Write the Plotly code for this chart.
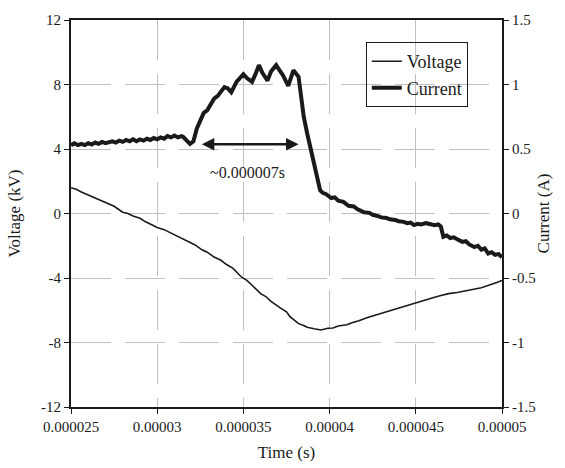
import plotly.graph_objects as go

# ---- data (time in microseconds) ----
volt_t_us = [25.0, 25.3, 25.6, 26.0, 26.3, 26.6, 26.9, 27.2, 27.5, 28.0, 28.3, 28.6, 29.0, 29.3,
             29.7, 30.0, 30.4, 30.8, 31.2, 31.5, 31.9, 32.2, 32.6, 32.9, 33.3, 33.7, 34.0, 34.4,
             34.9, 35.2, 35.5, 36.0, 36.3, 36.6, 37.2, 37.5, 37.7, 38.2, 38.5, 38.7, 39.1, 39.5,
             39.9, 40.2, 40.5, 41.0, 41.3, 41.7, 42.2, 42.6, 43.0, 43.5, 44.0, 44.4, 44.9, 45.4,
             45.9, 46.4, 46.9, 47.4, 47.9, 48.4, 48.8, 49.1, 49.4, 49.7, 50.0]
voltage_kv = [1.6, 1.5, 1.33, 1.15, 1.0, 0.9, 0.74, 0.62, 0.45, 0.08, 0.0, -0.15, -0.3, -0.5,
              -0.7, -0.87, -1.0, -1.2, -1.4, -1.55, -1.8, -1.95, -2.25, -2.4, -2.7, -2.9, -3.15, -3.4,
              -3.95, -4.15, -4.45, -4.97, -5.15, -5.45, -5.9, -6.1, -6.4, -6.83, -6.95, -7.05, -7.15, -7.22,
              -7.12, -7.1, -6.98, -6.9, -6.77, -6.65, -6.45, -6.32, -6.15, -6.0, -5.85, -5.7, -5.53, -5.4,
              -5.25, -5.1, -4.97, -4.9, -4.8, -4.68, -4.6, -4.5, -4.4, -4.28, -4.15]

curr_t_us = [25.0, 25.2, 25.4, 25.6, 25.8, 26.0, 26.2, 26.4, 26.6, 26.8, 27.0, 27.2, 27.4, 27.6,
             27.8, 28.0, 28.2, 28.4, 28.6, 28.8, 29.0, 29.2, 29.4, 29.6, 29.8, 30.0, 30.2, 30.4,
             30.6, 30.8, 31.0, 31.2, 31.4, 31.5, 31.7, 31.9, 32.1, 32.3, 32.5, 32.7, 32.9, 33.1,
             33.3, 33.5, 33.7, 33.9, 34.1, 34.3, 34.6, 34.8, 35.0, 35.2, 35.5, 35.7, 35.9, 36.1,
             36.4, 36.6, 36.9, 37.1, 37.3, 37.6, 37.9, 38.2, 38.35, 38.5, 38.7, 38.9, 39.1, 39.3,
             39.45, 39.6, 39.8, 40.1, 40.3, 40.5, 40.8, 41.1, 41.4, 41.6, 42.0, 42.3, 42.5, 42.8,
             43.0, 43.3, 43.5, 43.8, 44.0, 44.3, 44.5, 44.7, 44.9, 45.1, 45.3, 45.6, 45.9, 46.1,
             46.3, 46.45, 46.6, 46.8, 47.0, 47.2, 47.4, 47.7, 47.9, 48.1, 48.4, 48.6, 48.8, 49.0,
             49.2, 49.4, 49.6, 49.8, 50.0]
current_a = [0.53, 0.545, 0.53, 0.54, 0.53, 0.545, 0.535, 0.55, 0.54, 0.555, 0.545, 0.55, 0.56, 0.55,
             0.565, 0.555, 0.57, 0.56, 0.575, 0.56, 0.575, 0.565, 0.58, 0.57, 0.585, 0.575, 0.59, 0.58,
             0.6, 0.59, 0.605, 0.59, 0.6, 0.595, 0.57, 0.54, 0.56, 0.66, 0.72, 0.78, 0.8, 0.85,
             0.89, 0.91, 0.95, 0.98, 0.97, 0.94, 1.02, 1.05, 1.08, 1.05, 1.02, 1.08, 1.15, 1.09,
             1.03, 1.1, 1.15, 1.11, 1.07, 0.99, 1.11, 1.06, 0.9, 0.75, 0.62, 0.5, 0.36, 0.24,
             0.18, 0.16, 0.15, 0.12, 0.125, 0.1, 0.09, 0.06, 0.055, 0.035, 0.01, 0.005, -0.01, -0.02,
             -0.03, -0.035, -0.045, -0.05, -0.06, -0.065, -0.075, -0.07, -0.09, -0.08, -0.085, -0.075, -0.08, -0.09,
             -0.085, -0.1, -0.18, -0.17, -0.19, -0.185, -0.2, -0.22, -0.215, -0.24, -0.26, -0.25, -0.28, -0.27,
             -0.31, -0.3, -0.32, -0.315, -0.34]

x_tick_vals = [0.000025, 0.00003, 0.000035, 0.00004, 0.000045, 0.00005]
x_tick_text = ["0.000025", "0.00003", "0.000035", "0.00004", "0.000045", "0.00005"]
y1_tick_vals = [-12, -8, -4, 0, 4, 8, 12]
y1_tick_text = ["-12", "-8", "-4", "0", "4", "8", "12"]
y2_tick_vals = [-1.5, -1, -0.5, 0, 0.5, 1, 1.5]
y2_tick_text = ["-1.5", "-1", "-0.5", "0", "0.5", "1", "1.5"]

arrow_t_us = [32.5, 38.2]
arrow_v = 4.3
label_text = "~0.000007s"
label_pos = (35.26, 2.55)

FONT = "Liberation Serif"
INK = "#1a1a1a"

fig = go.Figure()
fig.add_trace(go.Scatter(x=[t * 1e-6 for t in volt_t_us], y=voltage_kv, mode="lines",
                         name="Voltage", line=dict(color=INK, width=1.6)))
fig.add_trace(go.Scatter(x=[t * 1e-6 for t in curr_t_us], y=current_a, mode="lines",
                         name="Current", yaxis="y2", line=dict(color=INK, width=4)))

fig.add_annotation(x=arrow_t_us[1] * 1e-6, y=arrow_v, ax=arrow_t_us[0] * 1e-6, ay=arrow_v,
                   xref="x", yref="y", axref="x", ayref="y", text="", showarrow=True,
                   arrowhead=2, startarrowhead=2, arrowside="end+start", arrowwidth=2.5,
                   arrowsize=1, startarrowsize=1, arrowcolor=INK)
fig.add_annotation(x=label_pos[0] * 1e-6, y=label_pos[1], xref="x", yref="y", text=label_text,
                   showarrow=False, font=dict(family=FONT, size=16, color=INK))

grid = dict(showgrid=True, gridcolor="#c0c0c0", gridwidth=1, griddash="40px,14px")
fig.update_layout(
    width=565, height=468,
    margin=dict(l=71, r=63, t=20, b=61),
    paper_bgcolor="white", plot_bgcolor="white",
    font=dict(family=FONT, size=15, color=INK),
    showlegend=True,
    legend=dict(x=0.684, y=0.943, xanchor="left", yanchor="top", bgcolor="rgba(0,0,0,0)",
                bordercolor=INK, borderwidth=1, font=dict(family=FONT, size=18),
                tracegroupgap=0),
    xaxis=dict(range=[0.000025, 0.00005], tickvals=x_tick_vals, ticktext=x_tick_text,
               showline=True, linecolor=INK, linewidth=2, mirror=True, automargin=False,
               ticks="outside", ticklen=5, tickcolor=INK, zeroline=False,
               tickfont=dict(size=15),
               title=dict(text="Time (s)", standoff=12, font=dict(size=17)), **grid),
    yaxis=dict(range=[-12, 12], tickvals=y1_tick_vals, ticktext=y1_tick_text,
               showline=True, linecolor=INK, linewidth=2, automargin=False,
               ticks="outside", ticklen=5, tickcolor=INK, zeroline=False,
               tickfont=dict(size=15),
               title=dict(text="Voltage (kV)", standoff=16, font=dict(size=17)), **grid),
    yaxis2=dict(range=[-1.5, 1.5], tickvals=y2_tick_vals, ticktext=y2_tick_text,
                overlaying="y", side="right", showline=True, linecolor=INK, linewidth=2,
                automargin=False, ticks="outside", ticklen=5, tickcolor=INK,
                showgrid=False, zeroline=False, tickfont=dict(size=15),
                title=dict(text="Current (A)", standoff=2, font=dict(size=17))),
)

fig.write_html("out.html")
